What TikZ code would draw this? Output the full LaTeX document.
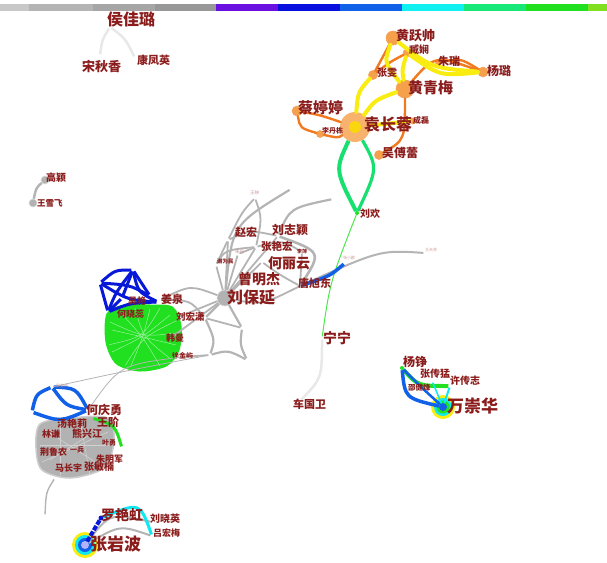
\documentclass[tikz,border=0pt]{standalone}
\usepackage{fontspec}
\newfontfamily\cjk{Noto Sans CJK SC}
\definecolor{labred}{HTML}{8B1C1C}
\definecolor{yel}{HTML}{F8EC10}
\definecolor{ora}{HTML}{F07A20}
\definecolor{orafill}{HTML}{F5A04A}
\definecolor{sgreen}{HTML}{18E070}
\definecolor{lgreen}{HTML}{20E020}
\definecolor{dblue}{HTML}{0818D8}
\definecolor{mblue}{HTML}{1060E8}
\definecolor{cyanc}{HTML}{10E8F0}
\definecolor{edgegray}{HTML}{B4B4B4}
\definecolor{faint}{HTML}{E8E8E8}
\tikzset{
  lab/.style={anchor=west,text=labred,inner sep=0pt,font=\cjk\bfseries\fontsize{#1}{#1}\selectfont},
  plab/.style={anchor=west,text=labred!45,inner sep=0pt,font=\cjk\fontsize{#1}{#1}\selectfont},
  pt/.style={circle,inner sep=0pt,minimum size=#1},
  odot/.style={pt=#1,fill=orafill,draw=ora!70,line width=0.6pt},
  gdot/.style={pt=#1,fill=black!30,draw=black!15,line width=0.6pt},
  yedge/.style={draw=yel,line width=4pt,line cap=round},
  oedge/.style={draw=ora,line width=2.4pt,line cap=round},
  gedge/.style={draw=edgegray,line width=1.8pt},
  tgedge/.style={draw=edgegray,line width=0.8pt},
  bedge/.style={draw=dblue,line width=3pt},
  mbedge/.style={draw=mblue,line width=3.5pt},
}
\begin{document}
\begin{tikzpicture}[x=1pt,y=-1pt]
\useasboundingbox (0,0) rectangle (607,562);
% colour bar
\foreach \xa/\xb/\c in {0/29/C8C8C8,29/93/B4B4B4,93/155/A6A6A6,155/216/989898,216/278/6A10E0,278/340/0810E0,340/402/1060E8,402/464/10F0F0,464/526/18E878,526/588/20E020,588/607/80E020}
  {\definecolor{barc}{HTML}{\c}\fill[barc] (\xa,4) rectangle (\xb,11);}

% ---------- top-left triangle ----------
\node[pt=3] (hjl) at (110,27) {};
\node[pt=3] (sqx) at (100,56) {};
\node[pt=3] (kfy) at (135,58) {};
\draw[draw=faint,line width=2.5pt] (hjl) .. controls (102,40) .. (sqx);
\draw[draw=faint,line width=2.5pt] (hjl) .. controls (125,38) .. (kfy);
\node[lab=16] (l-hjl) at (107,19) {侯佳璐};
\node[lab=13] (l-sqx) at (82,66) {宋秋香};
\node[lab=11] (l-kfy) at (137,60) {康凤英};

% ---------- Gao Ying ----------
\node[gdot=8] (gy) at (45,180) {};
\node[gdot=8] (wxf) at (33,203) {};
\draw[gedge,line width=2.5pt] (gy) .. controls (36,188) .. (wxf);
\node[lab=10] at (46,178) {高颖};
\node[lab=8.5] at (37,203) {王雪飞};

% ---------- orange cluster ----------
\node[odot=14] (hys) at (393,38) {};
\node[odot=8] (zx) at (407,53) {};
\node[odot=5] (zr) at (438,63) {};
\node[odot=10] (yl) at (483,72) {};
\node[odot=9] (zw) at (373,75) {};
\node[odot=18] (hqm) at (405,89) {};
\node[odot=10] (ctt) at (297,111) {};
\node[circle,fill=orafill!80,inner sep=0pt,minimum size=30pt] (ycr) at (355,127) {};
\node[odot=6] (cl) at (413,121) {};
\node[odot=7] (ldd) at (320,134) {};
\node[odot=9] (wfl) at (379,155) {};
\node[pt=4,fill=lgreen] (lh) at (357,213) {};

\draw[oedge] (hys) -- (zw);
\draw[oedge] (zw) .. controls (390,62) .. (zx);
\draw[oedge] (hqm) .. controls (435,55) .. (yl);
\draw[oedge] (zr) .. controls (460,58) .. (yl);
\draw[oedge] (hqm) .. controls (405,140) .. (wfl);
\draw[oedge] (ctt) .. controls (320,115) .. (ycr);
\draw[oedge] (ctt) .. controls (300,128) .. (ldd);
\draw[oedge] (ldd) .. controls (338,138) .. (ycr);
\draw[yedge] (hys) .. controls (384,62) .. (hqm);
\draw[yedge] (hys) .. controls (432,68) .. (yl);
\draw[yedge] (zx) .. controls (440,76) .. (yl);
\draw[yedge] (zx) .. controls (402,70) .. (hqm);
\draw[yedge] (zw) .. controls (358,92) .. (ycr);
\draw[yedge] (hqm) .. controls (375,100) .. (ycr);
\draw[yedge] (ycr) -- (cl);
\fill[yel!80!orange] (355,127) circle (6);
\draw[draw=sgreen,line width=4pt] (ycr) .. controls (335,170) .. (lh);
\draw[draw=sgreen,line width=3.2pt] (ycr) .. controls (378,168) .. (lh);
\fill[orafill] (379,155) circle (4);

\node[lab=13] at (396,36) {黄跃帅};
\node[lab=10] at (409,50) {臧娴};
\node[lab=11] at (438,61) {朱瑞};
\node[lab=12] at (487,71) {杨璐};
\node[lab=10] at (377,73) {张雯};
\node[lab=15] at (408,88) {黄青梅};
\node[lab=15] at (298,108) {蔡婷婷};
\node[lab=16] at (364,125) {袁长蓉};
\node[lab=8] at (413,120) {成磊};
\node[lab=7] at (322,131) {李丹栋};
\node[lab=12] at (382,153) {吴傅蕾};
\node[lab=10] at (360,214) {刘欢};

% ---------- Ning Ning ----------
\node[pt=3] (nn) at (322,338) {};
\node[pt=3] (cgw) at (300,401) {};
\draw[draw=lgreen!80,line width=1pt] (lh) .. controls (330,282) .. (nn);
\draw[draw=faint,line width=2.5pt] (nn) .. controls (322,378) .. (cgw);
\node[lab=14] at (323,338) {宁宁};
\node[lab=11] at (293,404) {车国卫};

% ---------- gray cluster (Liu Baoyan) ----------
\node[pt=3] (wy) at (255,198) {};
\node[pt=3] (g1) at (291,189) {};
\node[pt=3] (g2) at (333,199) {};
\node[pt=3] (zh) at (228,240) {};
\node[pt=3] (lzy) at (278,236) {};
\node[pt=3] (zyh) at (256,247) {};
\node[pt=3] (hly) at (262,262) {};
\node[pt=3] (cmj) at (240,281) {};
\node[pt=3] (xwm) at (216,265) {};
\node[pt=3] (zd) at (238,254) {};
\node[pt=3] (lp) at (302,252) {};
\node[pt=4,fill=black!25] (tsd) at (300,286) {};
\node[pt=3] (zxq) at (345,263) {};
\node[pt=3] (far) at (425,253) {};
\node[gdot=16] (lby) at (225,298) {};
\draw[gedge] (wy) .. controls (242,212) .. (zh);
\draw[gedge] (wy) .. controls (262,218) .. (zyh);
\draw[gedge,line width=2.2pt] (g1) .. controls (232,225) .. (lby);
\draw[gedge,line width=2.2pt] (g2) .. controls (290,208) .. (lzy);
\draw[gedge,line width=2.6pt] (lzy) .. controls (322,252) .. (tsd);
\draw[gedge] (zh) -- (lby);
\draw[gedge] (zh) .. controls (250,230) .. (lzy);
\draw[gedge] (zh) -- (xwm);
\draw[gedge] (lzy) -- (lby);
\draw[gedge] (zyh) -- (lby);
\draw[gedge] (zyh) .. controls (282,240) .. (lp);
\draw[gedge] (hly) -- (lby);
\draw[gedge] (hly) .. controls (280,275) .. (tsd);
\draw[gedge] (cmj) -- (lby);
\draw[gedge] (xwm) -- (lby);
\draw[gedge] (zd) -- (lby);
\draw[gedge] (zd) -- (zyh);
\draw[gedge] (xwm) .. controls (225,250) .. (zyh);
\draw[gedge] (lp) -- (tsd);
\draw[gedge] (lby) .. controls (262,305) .. (tsd);
\draw[gedge,line width=2pt] (tsd) .. controls (380,250) .. (far);
\draw[draw=mblue,line width=3.5pt] (tsd) .. controls (330,276) .. (zxq);

\node[plab=4.5] at (250,193) {王映};
\node[lab=11] at (235,232) {赵宏};
\node[lab=12] at (272,230) {刘志颖};
\node[lab=10.5] at (261,246) {张艳宏};
\node[plab=4.5] at (235,252) {朱丹};
\node[lab=5] at (297,252) {李萍};
\node[lab=5.5] at (217,261) {谢为民};
\node[lab=14] at (268,263) {何丽云};
\node[lab=14] at (238,279) {曾明杰};
\node[lab=16] at (227,297) {刘保延};
\node[lab=11] at (298,283) {唐旭东};
\node[plab=4] at (343,258) {张小群};
\node[plab=4] at (425,250) {王天芳};

% ---------- left green / blue cluster ----------
\fill[lgreen] plot[smooth cycle] coordinates {(108,314) (125,306) (150,306) (172,308) (180,326) (178,350) (166,365) (140,370) (117,363) (107,342)};
\foreach \a/\b/\c/\d in {112/330/176/345,120/312/160/366,150/309/130/368,170/315/112/352,110/322/175/333,125/366/178/320,135/308/172/360,108/345/160/308}
  \draw[draw=white!55!lgreen,line width=0.5pt] (\a,\b) .. controls (143,337) .. (\c,\d);
\draw[draw=lgreen,line width=3pt] plot[smooth cycle] coordinates {(108,314) (125,306) (150,306) (172,308) (180,326) (178,350) (166,365) (140,370) (117,363) (107,342)};
\node[pt=3] (b1) at (100,283) {};
\node[pt=3] (b2) at (133,270) {};
\node[pt=3] (b3) at (158,302) {};
\node[pt=3] (b4) at (108,312) {};
\node[pt=3] (b5) at (150,296) {};
\node[pt=3] (b6) at (122,298) {};
\draw[bedge] (b1) .. controls (115,270) .. (b2);
\draw[bedge] (b2) .. controls (138,292) .. (b3);
\draw[bedge] (b1) .. controls (128,300) .. (b3);
\draw[bedge] (b2) .. controls (116,292) .. (b4);
\draw[bedge] (b1) -- (b4);
\draw[bedge] (b4) .. controls (130,303) .. (b3);
\draw[bedge] (b2) -- (b5);
\draw[bedge] (b1) .. controls (130,285) .. (b5);
\draw[bedge] (b4) -- (b6);
\draw[bedge] (b6) -- (b2);

\node[pt=3] (jq) at (160,300) {};
\node[pt=3] (rhx) at (176,318) {};
\node[pt=3] (hm) at (168,340) {};
\node[pt=3] (d1) at (205,318) {};
\node[pt=3] (d2) at (242,328) {};
\node[pt=3] (d3) at (210,355) {};
\node[pt=3] (d4) at (247,360) {};
\node[pt=3] (txy) at (182,357) {};
\draw[gedge] (lby) .. controls (190,285) .. (jq);
\draw[gedge] (lby) -- (rhx);
\draw[gedge] (lby) .. controls (195,320) .. (hm);
\draw[gedge,line width=2.2pt] (lby) -- (d1);
\draw[gedge,line width=2.2pt] (lby) -- (d2);
\draw[gedge,line width=2.2pt] (d1) .. controls (215,340) .. (d3);
\draw[gedge,line width=2.2pt] (d2) .. controls (240,345) .. (d4);
\draw[gedge,line width=2.2pt] (d3) .. controls (228,350) .. (d4);
\draw[gedge] (d1) -- (d2);
\draw[gedge] (d3) -- (txy);
\draw[gedge] (jq) .. controls (190,300) .. (d1);
\node[lab=11] at (161,299) {姜泉};
\node[lab=9.5] at (176,317) {刘宏潇};
\node[lab=9] at (166,338) {韩曼};
\node[lab=7] at (172,356) {徐金屿};
\node[lab=9] at (128,301) {吴艳};
\node[lab=9] at (117,314) {何晓蕊};

% ---------- Wan Chonghua ----------
\node[pt=4,fill=lgreen] (yz) at (402,368) {};
\node[pt=3] (xcz) at (450,386) {};
\node[pt=3] (zcm) at (432,381) {};
\fill[yel] (443,407) circle (12);
\fill[cyanc] (443,407) circle (9);
\fill[lgreen] (443,407) circle (6.5);
\fill[mblue] (443,407) circle (4);
\node[pt=8] (wch) at (443,407) {};
\draw[draw=lgreen,line width=4pt] (yz) .. controls (418,386) .. (xcz);
\draw[mbedge] (yz) .. controls (405,398) .. (wch);
\draw[draw=mblue,line width=2.5pt] (yz) .. controls (422,388) .. (wch);
\draw[draw=cyanc,line width=2pt] (xcz) -- (wch);
\draw[draw=cyanc,line width=1.5pt] (zcm) -- (wch);
\node[lab=12] at (403,362) {杨铮};
\node[lab=10] at (420,374) {张传猛};
\node[lab=10] at (450,381) {许传志};
\node[lab=7.5] at (408,388) {邵健烽};
\node[lab=17] at (447,406) {万崇华};

% ---------- He Qingyong cluster ----------
\draw[fill=black!30,draw=black!20,line width=1.5pt] plot[smooth cycle] coordinates {(40,424) (70,418) (108,418) (114,442) (104,468) (70,478) (42,470) (36,448)};
\foreach \a/\b/\c/\d in {45/430/100/465,50/460/105/425,60/420/60/475,80/420/90/475,40/445/110/445,42/462/108/432}
  \draw[draw=black!18,line width=0.6pt] (\a,\b) -- (\c,\d);
\node[pt=3] (bl1) at (52,387) {};
\node[pt=3] (bl2) at (32,412) {};
\node[pt=4] (hqy) at (88,410) {};
\node[pt=3] (wj) at (92,418) {};
\node[pt=3] (wjend) at (122,448) {};
\node[pt=3] (blb) at (55,478) {};
\node[pt=3] (blc) at (45,516) {};
\draw[mbedge] (bl1) .. controls (76,388) .. (hqy);
\draw[mbedge] (bl1) .. controls (66,406) .. (hqy);
\draw[mbedge] (bl2) .. controls (60,422) .. (hqy);
\draw[mbedge] (bl1) .. controls (36,394) .. (bl2);
\draw[draw=lgreen,line width=3pt] (wj) .. controls (115,425) .. (wjend);
\draw[tgedge] (txy) .. controls (120,365) .. (hqy);
\draw[tgedge] (d3) .. controls (130,370) .. (bl1);
\draw[gedge,line width=1.4pt] (blb) .. controls (46,492) .. (blc);
\node[plab=4] at (56,386) {吴圣贤};
\node[lab=12] at (86,410) {何庆勇};
\node[lab=11] at (97,422) {王阶};
\node[lab=10] at (57,424) {汤艳莉};
\node[lab=9] at (42,434) {林谦};
\node[lab=10] at (72,434) {熊兴江};
\node[lab=7] at (102,443) {叶勇};
\node[lab=9] at (40,452) {荆鲁农};
\node[lab=7] at (70,450) {一兵};
\node[lab=9] at (96,459) {朱明军};
\node[lab=9] at (55,468) {马长宇};
\node[lab=10] at (84,467) {张敏楠};

% ---------- Zhang Yanbo ----------
\fill[yel] (85,545) circle (13);
\fill[cyanc] (85,545) circle (10);
\fill[mblue] (85,545) circle (7);
\fill[blue!30!white] (85,545) circle (4);
\node[pt=8] (zyb) at (85,545) {};
\node[pt=5,fill=dblue] (lyh) at (101,518) {};
\node[pt=3] (lxy) at (152,522) {};
\node[pt=3] (lhm) at (152,536) {};
\draw[draw=edgegray,line width=2pt] (zyb) .. controls (110,513) .. (lxy);
\draw[draw=edgegray,line width=2pt] (zyb) .. controls (120,525) .. (lhm);
\draw[draw=cyanc,line width=3pt] (lyh) .. controls (140,502) .. (lhm);
\draw[draw=dblue,line width=4pt,dash pattern=on 5pt off 1.5pt] (zyb) -- (lyh);
\node[lab=14] at (101,515) {罗艳虹};
\node[lab=10] at (150,519) {刘晓英};
\node[lab=9] at (153,533) {吕宏梅};
\node[lab=17] at (90,544) {张岩波};
\end{tikzpicture}
\end{document}
